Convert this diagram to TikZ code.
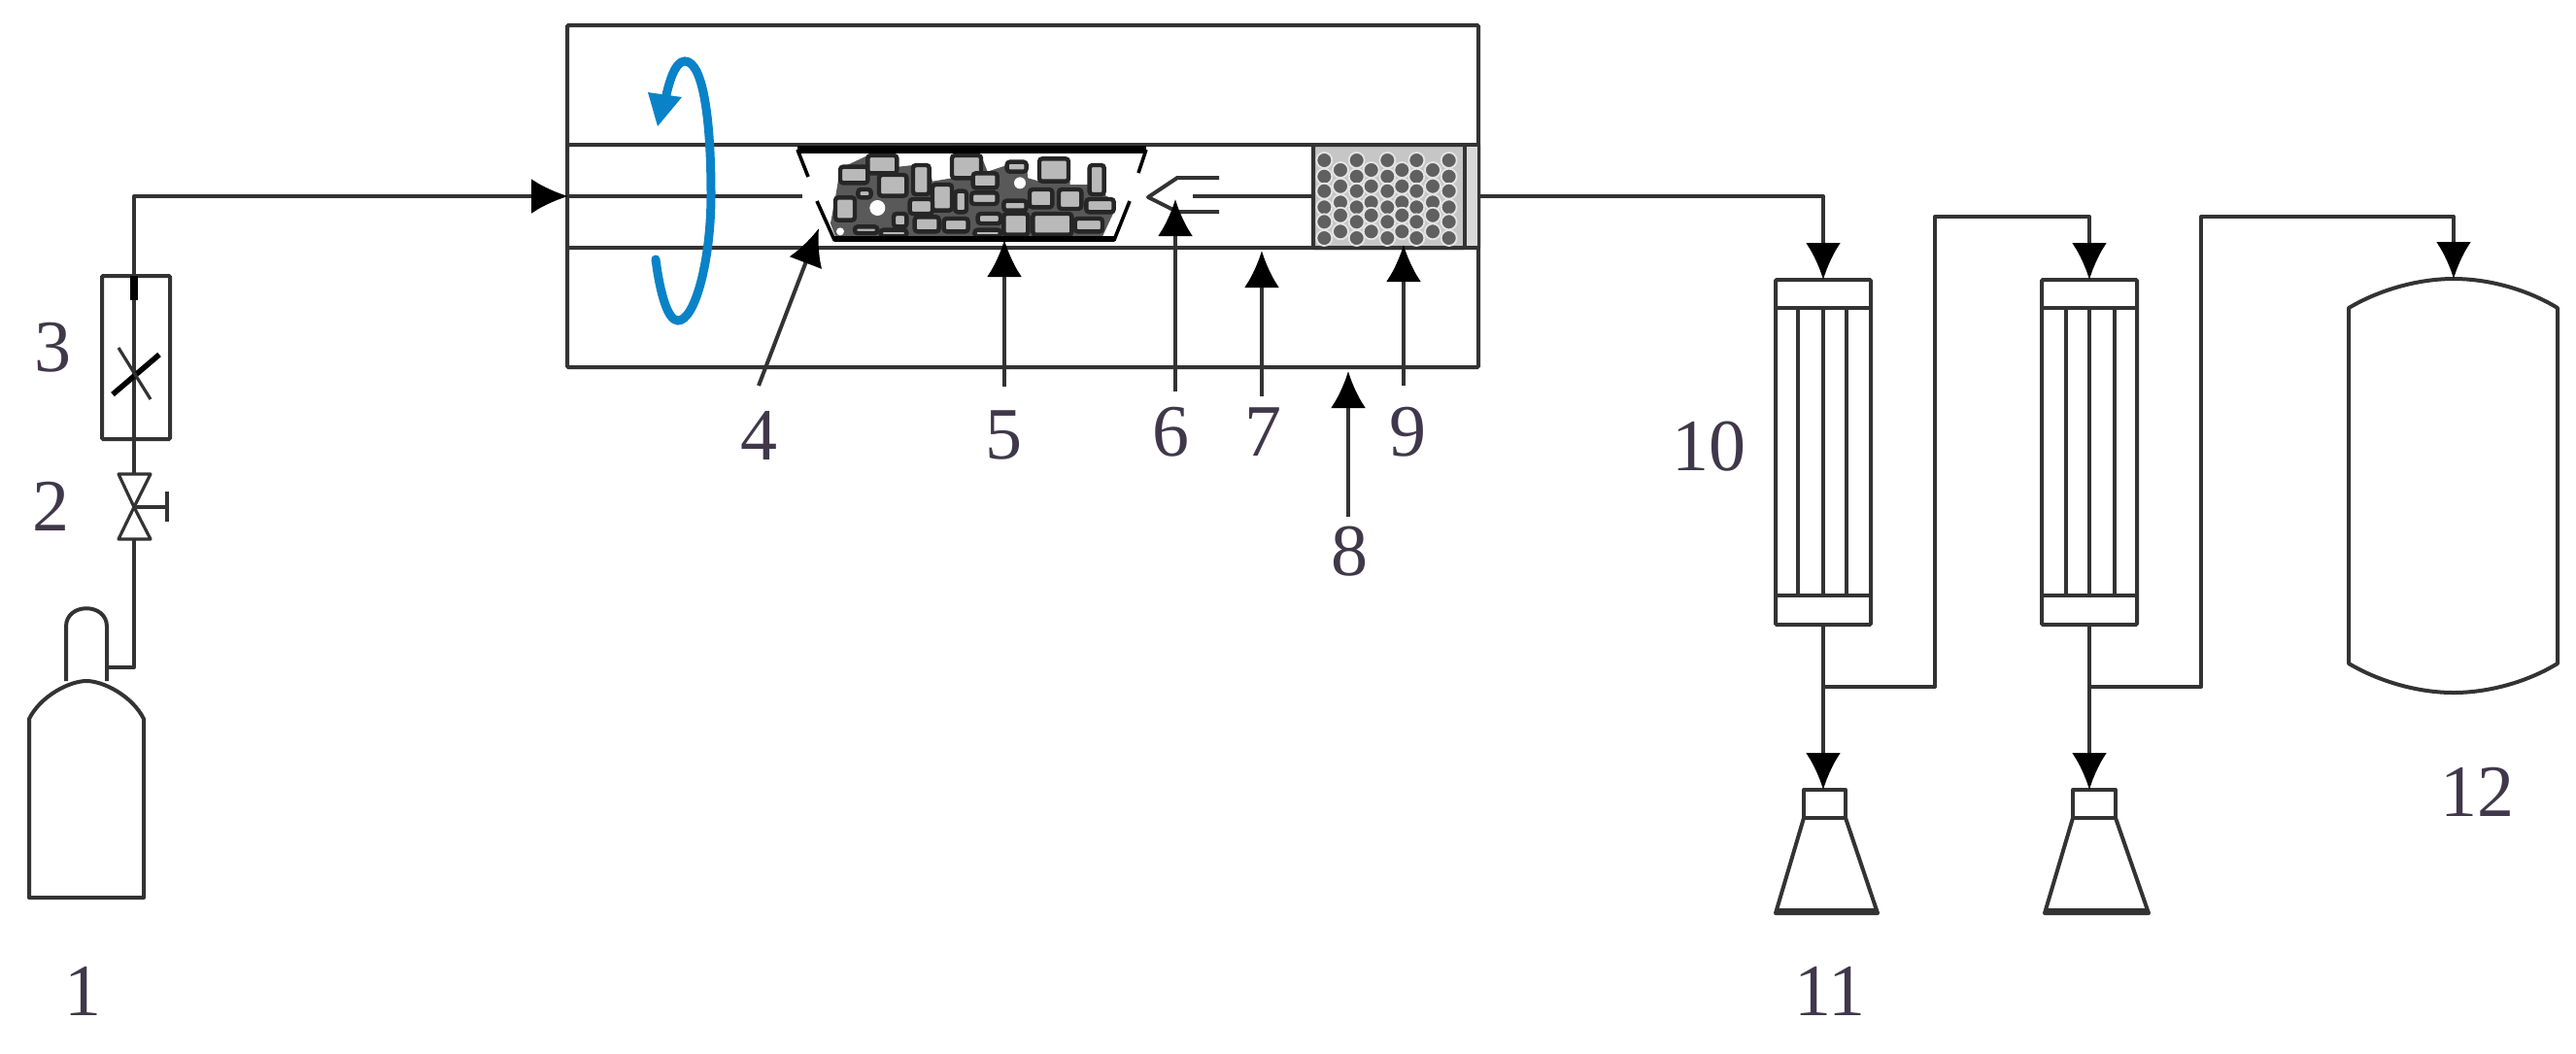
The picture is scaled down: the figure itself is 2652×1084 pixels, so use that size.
\documentclass[tikz,border=0pt]{standalone}
\usepackage{fontspec}
\setmainfont{Liberation Serif}
\usetikzlibrary{arrows.meta}
\definecolor{ink}{HTML}{333333}
\definecolor{labelink}{HTML}{40384A}
\definecolor{spin}{HTML}{0A82C8}
\tikzset{
  px/.style={x=0.5pt,y=-0.5pt},
  pipe/.style={draw=ink,line width=2pt,line join=round},
  thin pipe/.style={draw=ink,line width=1.6pt,line join=round},
  flow/.style={pipe,-{Latex[length=19pt,width=18pt,color=black]}},
  box/.style={draw=ink,line width=2pt,fill=white,inner sep=0pt,outer sep=0pt,rectangle,rounded corners=0.6pt},
  chunk/.style={draw=black!85,line width=2.2pt,fill=gray!55,rounded corners=1.5pt},
  dotm/.style={fill=gray!75!black,draw=white!80!gray,line width=0.9pt},
  numlabel/.style={text=labelink,font=\fontsize{38}{38}\selectfont,inner sep=0pt}
}
\begin{document}
\begin{tikzpicture}[px]
\useasboundingbox[fill=white] (0,0) rectangle (2652,1084);

% --- furnace
\node[box,minimum width=469pt,minimum height=176pt,anchor=north west] (furnace) at (584,26) {};
\node[box,minimum width=469pt,minimum height=53pt,anchor=north west] (tube) at (584,149) {};

% packing 9
\node[box,fill=gray!45,minimum width=78pt,minimum height=53pt,anchor=north west] (packing) at (1352,149) {};
\fill[gray!30] (1508,151) rectangle (1521,253);
\draw[pipe] (1508,149) -- (1508,255);
\foreach \px in {70,170,265,355,455}
  \foreach \py in {75,125,170,220,265,315}
    \draw[dotm] ({1340+\px/3},{140+\py/3}) circle (4pt);
\foreach \px in {120,215,310,405}
  \foreach \py in {105,155,205,245,295}
    \draw[dotm] ({1340+\px/3},{140+\py/3}) circle (4pt);

% boat 4 and chunks 5
\begin{scope}[shift={(810,140)},x=0.16667pt,y=-0.16667pt]
\fill[black!65] (150,310) -- (135,270) -- (150,190) -- (165,100) -- (250,60) -- (340,60) -- (345,95) -- (390,90)
  -- (440,100) -- (450,140) -- (510,130) -- (510,60) -- (600,60) -- (620,110) -- (680,90) -- (740,90) -- (745,130)
  -- (780,140) -- (780,70) -- (870,70) -- (875,150) -- (935,150) -- (935,90) -- (980,90) -- (985,185)
  -- (1010,195) -- (1010,235) -- (975,310) -- cycle;
\foreach \a/\b/\c/\d in {165/95/250/145,250/60/340/115,285/120/370/185,390/90/440/180,150/190/210/260,
  450/150/510/230,510/60/600/130,520/170/555/235,575/115/650/160,570/175/650/210,590/240/660/270,
  580/290/660/310,670/200/740/230,670/240/745/305,760/240/880/305,780/70/870/140,750/165/820/220,
  840/165/910/225,935/90/980/180,925/195/1010/235,890/255/975/295,395/250/470/295,485/255/560/295,
  330/240/370/280,290/290/370/310,210/280/280/300,380/195/450/240,680/80/740/110,220/165/260/190}
  \draw[chunk] (\a,\b) rectangle (\c,\d);
\fill[white] (280,222) circle (24);
\fill[white] (165,295) circle (12);
\fill[white] (720,145) circle (18);
\end{scope}
\draw[draw=black,line width=4pt] (821,154) -- (1180,154);
\draw[draw=black,line width=1.8pt] (821,154) -- (832,182);
\draw[draw=black,line width=1.8pt] (1180,154) -- (1172,178);
\draw[draw=black,line width=1.8pt,line join=round] (841,207) -- (859,247) -- (1147,247) -- (1163,207);
\draw[draw=black,line width=3pt] (859,246) -- (1147,246);

% gas lance 6 and inner line 7
\coordinate (lanceL) at (1182,203);
\coordinate (lanceU) at (1212,183);
\coordinate (lanceUE) at (1255,183);
\coordinate (lanceD) at (1212,218);
\coordinate (lanceDE) at (1255,218);
\coordinate (innerE) at (1228,202);
\coordinate (boatgap) at (826,202);
\draw[pipe] (lanceUE) -- (lanceU) -- (lanceL) -- (lanceD) -- (lanceDE);
\draw[pipe] (innerE) -- (packing.west |- innerE);
\draw[pipe] (tube.west |- boatgap) -- (boatgap);

% rotation arrow
\coordinate (spinS) at (675,267);
\coordinate (spinB) at (698,330);
\coordinate (spinR) at (732,200);
\coordinate (spinT) at (705,63);
\coordinate (spinE) at (684,108);
\draw[spin,line width=4.5pt,line cap=round]
  (spinS) .. controls (680,305) and (688,330) .. (spinB)
  .. controls (715,330) and (732,270) .. (spinR)
  .. controls (732,130) and (725,63) .. (spinT)
  .. controls (695,63) and (688,85) .. (spinE);
\fill[spin] (667,95) -- (702,100) -- (677,130) -- cycle;

% --- gas supply
\coordinate (bneck) at (110,687);
\coordinate (bpipe) at (138,687);
\draw[pipe] (30,740) .. controls (42,716) and (72,701) .. (89,701)
  .. controls (106,701) and (136,716) .. (148,740) -- (148,924) -- (30,924) -- cycle;
\draw[pipe] (68,701) -- (68,645) .. controls (68,620) and (110,620) .. (110,645) -- (110,701);
\node[box,fill=none,minimum width=35pt,minimum height=84pt] (meter) at (140,368) {};
\coordinate (valve) at (138,522);
\draw[pipe] (bneck) -- (bpipe) -- (138,555);
\draw[thin pipe] (valve) -- (122,488) -- (155,488) -- (valve) -- (122,555) -- (155,555) -- cycle;
\draw[thin pipe] (valve) -- (172,522);
\draw[pipe] (172,506) -- (172,537);
\draw[pipe] (138,488) -- (138,452);
\draw[pipe] (138,452) -- (138,284);
\draw[draw=black,line width=4pt] (138,284) -- (138,309);
\draw[draw=black,line width=2.8pt] (116,406) -- (164,365);
\draw[thin pipe] (122,358) -- (155,411);
\coordinate (corner) at (138,202);
\coordinate (meterTop) at (138,284);
\coordinate (inlet) at (585,202);
\draw[flow] (meterTop) -- (corner) -- (inlet);

% --- outlet / columns
\node[box,minimum width=49pt,minimum height=177.5pt] (col1) at (1877,465.5) {};
\node[box,minimum width=49pt,minimum height=177.5pt] (col2) at (2151,465.5) {};
\foreach \c/\a/\b/\d in {col1/1851/1877/1901,col2/2127/2151/2177}{
  \draw[pipe] (\a,317) -- (\a,613);
  \draw[pipe] (\b,317) -- (\b,613);
  \draw[pipe] (\d,317) -- (\d,613);
  \draw[pipe] (\c.west |- 0,317) -- (\c.east |- 0,317);
  \draw[pipe] (\c.west |- 0,613) -- (\c.east |- 0,613);
}
\coordinate (tankTop) at (2526,287);
\draw[pipe] (2418,317) .. controls (2450,298) and (2490,287) .. (tankTop)
  .. controls (2562,287) and (2602,298) .. (2633,317) -- (2633,683)
  .. controls (2602,702) and (2562,713) .. (2526,713)
  .. controls (2490,713) and (2450,702) .. (2418,683) -- cycle;

% flasks
\foreach \n/\na/\nb/\ba/\bb in {1/1857/1900/1828/1933,2/2134/2178/2105/2212}{
  \draw[pipe] (\na,842) -- (\na,813) -- (\nb,813) -- (\nb,842);
  \draw[pipe] (\na,842) -- (\nb,842);
  \draw[pipe] (\na,842) -- (\ba,940) -- (\bb,940) -- (\nb,842);
  \draw[pipe] (\ba,937) -- (\bb,937);
}
\coordinate (flask1) at (1877,813);
\coordinate (flask2) at (2151,813);
\coordinate (j1) at (1877,707);
\coordinate (j2) at (2151,707);
\coordinate (out) at (1523,202);
\draw[flow] (out) -- (col1.north |- out) -- (col1.north);
\draw[flow] (col1.south) -- (flask1);
\draw[flow] (col2.south) -- (flask2);
\draw[flow] (j1) -- (1992,707) -- (1992,223) -- (2151,223) -- (col2.north);
\draw[flow] (j2) -- (2266,707) -- (2266,223) -- (2526,223) -- (tankTop);

% --- pointer labels
\node[numlabel] (n1) at (85,1020) {1};
\node[numlabel] (n2) at (52,521) {2};
\node[numlabel] (n3) at (54,358) {3};
\node[numlabel] (n4) at (781,448) {4};
\node[numlabel] (n5) at (1033,448) {5};
\node[numlabel] (n6) at (1205,445) {6};
\node[numlabel] (n7) at (1300,445) {7};
\node[numlabel] (n8) at (1389,568) {8};
\node[numlabel] (n9) at (1449,445) {9};
\node[numlabel] (n10) at (1759,460) {10};
\node[numlabel] (n11) at (1884,1020) {11};
\node[numlabel] (n12) at (2550,815) {12};

\coordinate (t4) at (843,235);
\coordinate (t5) at (1034,247);
\coordinate (t6) at (1210,205);
\coordinate (t7) at (1299,258);
\coordinate (t8) at (1388,382);
\coordinate (t9) at (1445,252);
\coordinate (a4) at (781,397);
\coordinate (a5) at (1034,398);
\coordinate (a6) at (1210,403);
\coordinate (a7) at (1299,408);
\coordinate (a8) at (1388,532);
\coordinate (a9) at (1445,397);
\draw[flow] (a4) -- (t4);
\draw[flow] (a5) -- (t5);
\draw[flow] (a6) -- (t6);
\draw[flow] (a7) -- (t7);
\draw[flow] (a8) -- (t8);
\draw[flow] (a9) -- (t9);
\end{tikzpicture}
\end{document}
